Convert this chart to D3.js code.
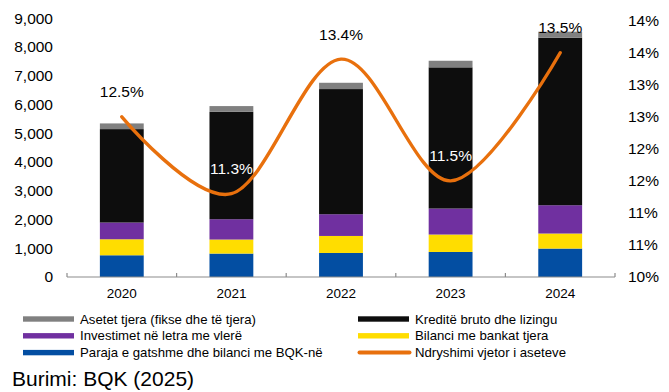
<!DOCTYPE html>
<html>
<head>
<meta charset="utf-8">
<script src="https://cdn.jsdelivr.net/npm/d3@7"></script>
<style>
  html, body { margin: 0; padding: 0; background: #fff; }
  svg { display: block; font-family: "Liberation Sans", Arial, sans-serif; }
</style>
</head>
<body>
<svg id="chart" width="669" height="392"></svg>
<script>
// Asetet e sektorit bankar (milionë euro) dhe ndryshimi vjetor (%)
const years = ["2020", "2021", "2022", "2023", "2024"];
const paraja = [756, 815, 836, 871, 989];        // Paraja e gatshme dhe bilanci me BQK-në
const bilanci = [557, 488, 592, 606, 523];       // Bilanci me bankat tjera
const investimet = [582, 707, 756, 905, 985];    // Investimet në letra me vlerë
const kredite = [3250, 3737, 4354, 4912, 5827];  // Kreditë bruto dhe lizingu
const asetet = [198, 199, 219, 229, 210];        // Asetet tjera (fikse dhe të tjera)
const ndryshimi = [12.5, 11.3, 13.4, 11.5, 13.5]; // Ndryshimi vjetor i aseteve (%)
const leftTicks = [0, 1000, 2000, 3000, 4000, 5000, 6000, 7000, 8000, 9000];
const rightTicks = [10, 10.5, 11, 11.5, 12, 12.5, 13, 13.5, 14];

const series = [
  { key: "paraja", label: "Paraja e gatshme dhe bilanci me BQK-në", values: paraja, color: "#034ea2" },
  { key: "bilanci", label: "Bilanci me bankat tjera", values: bilanci, color: "#ffdd00" },
  { key: "investimet", label: "Investimet në letra me vlerë", values: investimet, color: "#7030a0" },
  { key: "kredite", label: "Kreditë bruto dhe lizingu", values: kredite, color: "#0d0d0d" },
  { key: "asetet", label: "Asetet tjera (fikse dhe të tjera)", values: asetet, color: "#808080" }
];
const lineColor = "#e8700d";

const rows = years.map((y, i) => {
  const r = { year: y };
  series.forEach(s => { r[s.key] = s.values[i]; });
  return r;
});

const svg = d3.select("#chart");
const plot = { left: 67, right: 615, bottom: 277 };

const x = d3.scaleBand().domain(years).range([plot.left, plot.right]).padding(0);
const yL = d3.scaleLinear().domain([0, 9000]).range([plot.bottom, 18.3]);
const yR = d3.scaleLinear().domain([10, 14]).range([plot.bottom, 20.7]);
const barW = x.bandwidth() * 0.4;

// Stacked bars
const stack = d3.stack().keys(series.map(s => s.key));
const layers = stack(rows);
svg.append("g").selectAll("g")
  .data(layers)
  .join("g")
  .attr("fill", (d, i) => series[i].color)
  .selectAll("rect")
  .data(d => d)
  .join("rect")
  .attr("x", d => x(d.data.year) + (x.bandwidth() - barW) / 2)
  .attr("width", barW)
  .attr("y", d => yL(d[1]))
  .attr("height", d => yL(d[0]) - yL(d[1]));

// Category axis
const xAxis = svg.append("g").attr("transform", `translate(0,${plot.bottom})`);
xAxis.append("line")
  .attr("x1", plot.left).attr("x2", plot.right)
  .attr("stroke", "#8c8c8c").attr("stroke-width", 1.2);
const bounds = years.map(y => x(y)).concat([plot.right]);
xAxis.selectAll("line.tk").data(bounds).join("line")
  .attr("class", "tk")
  .attr("x1", d => d).attr("x2", d => d)
  .attr("y1", 0).attr("y2", -4)
  .attr("stroke", "#8c8c8c").attr("stroke-width", 1.2);
xAxis.selectAll("text").data(years).join("text")
  .attr("x", d => x(d) + x.bandwidth() / 2)
  .attr("y", 16)
  .attr("dy", "0.35em")
  .attr("text-anchor", "middle")
  .attr("font-size", 13.5)
  .attr("fill", "#000")
  .text(d => d);

// Left value axis (labels only)
const fmtL = d3.format(",");
svg.append("g").selectAll("text").data(leftTicks).join("text")
  .attr("x", 53)
  .attr("y", d => yL(d))
  .attr("dy", "0.35em")
  .attr("text-anchor", "end")
  .attr("font-size", 15.5)
  .attr("fill", "#000")
  .text(d => fmtL(d));

// Right percentage axis (labels only)
svg.append("g").selectAll("text").data(rightTicks).join("text")
  .attr("x", 628)
  .attr("y", d => yR(d))
  .attr("dy", "0.35em")
  .attr("text-anchor", "start")
  .attr("font-size", 15.5)
  .attr("fill", "#000")
  .text(d => Math.round(d) + "%");

// Smoothed line of annual change
const line = d3.line()
  .x((d, i) => x(years[i]) + x.bandwidth() / 2)
  .y(d => yR(d))
  .curve(d3.curveCardinal.tension(0));
svg.append("path")
  .datum(ndryshimi)
  .attr("d", line)
  .attr("fill", "none")
  .attr("stroke", lineColor)
  .attr("stroke-width", 3.4)
  .attr("stroke-linecap", "round");

// Data labels above the line points; those inside a bar are drawn in white
const topLimit = 20;
svg.append("g").selectAll("text").data(ndryshimi).join("text")
  .each(function (d, i) {
    const cx = x(years[i]) + x.bandwidth() / 2;
    let ly = yR(d) - 25;
    let lx = cx;
    if (ly < topLimit) { ly = topLimit; lx = cx + 11; }
    const barTop = yL(d3.sum(series, s => s.values[i]));
    const inside = ly > barTop + 8;
    d3.select(this)
      .attr("x", lx)
      .attr("y", ly)
      .attr("dy", "0.35em")
      .attr("fill", inside ? "#fff" : "#000");
  })
  .attr("text-anchor", "middle")
  .attr("font-size", 15.5)
  .text(d => d.toFixed(1) + "%");

// Legend
const legendItems = [
  { s: series[4], col: 0, row: 0 },
  { s: series[3], col: 1, row: 0 },
  { s: series[2], col: 0, row: 1 },
  { s: series[1], col: 1, row: 1 },
  { s: series[0], col: 0, row: 2 },
  { s: { label: "Ndryshimi vjetor i aseteve", color: lineColor, line: true }, col: 1, row: 2 }
];
const colX = [23, 358];
const rowY = [319, 335.8, 352.6];
const lg = svg.append("g").selectAll("g").data(legendItems).join("g")
  .attr("transform", d => `translate(${colX[d.col]},${rowY[d.row]})`);
lg.filter(d => !d.s.line).append("rect")
  .attr("x", 0).attr("y", -2.7).attr("width", 51).attr("height", 5.4)
  .attr("fill", d => d.s.color);
lg.filter(d => d.s.line).append("line")
  .attr("x1", 1.5).attr("x2", 51.5).attr("y1", 0).attr("y2", 0)
  .attr("stroke", d => d.s.color).attr("stroke-width", 4)
  .attr("stroke-linecap", "round");
lg.append("text")
  .attr("x", 57).attr("y", 0).attr("dy", "0.35em")
  .attr("font-size", 13.2)
  .attr("fill", "#000")
  .text(d => d.s.label);

// Source
svg.append("text")
  .attr("x", 12).attr("y", 378.5).attr("dy", "0.35em")
  .attr("font-size", 21)
  .attr("fill", "#000")
  .text("Burimi: BQK (2025)");
</script>
</body>
</html>
